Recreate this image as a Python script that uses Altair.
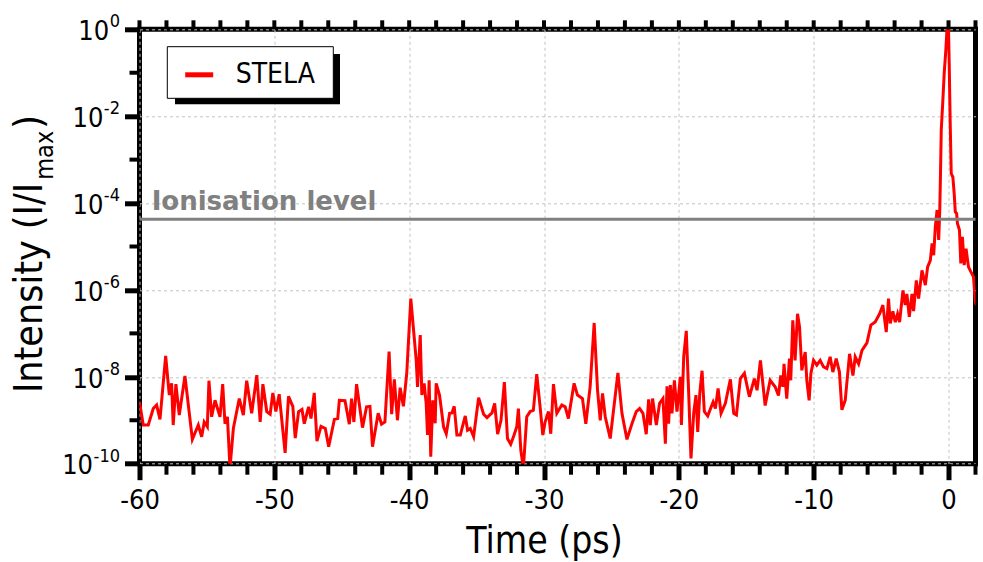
import altair as alt
import pandas as pd

# ---------------- data ----------------
series_name = "STELA"
ionisation_level = 4.24e-5
ionisation_label = "Ionisation level"
x_title = "Time (ps)"
y_title_parts = ["Intensity (I/I", "max", ")"]

time_ps = [
    -60.0, -59.72, -59.35, -58.98, -58.73, -58.48, -58.06, -57.79, -57.62, -57.5,
    -57.3, -57.05, -56.63, -56.08, -55.64, -55.39, -55.2, -54.97, -54.85, -54.65,
    -54.4, -54.03, -53.83, -53.66, -53.48, -53.29, -53.04, -52.6, -52.3, -52.05,
    -51.68, -51.3, -51.05, -50.85, -50.56, -50.31, -50.11, -49.89, -49.64, -49.2,
    -48.95, -48.63, -48.45, -48.2, -47.95, -47.78, -47.46, -47.28, -47.04, -46.84,
    -46.54, -46.22, -45.97, -45.55, -45.3, -45.18, -44.76, -44.44, -44.27, -44.1,
    -43.9, -43.46, -43.16, -42.91, -42.72, -42.3, -42.05, -41.8, -41.49, -41.3,
    -41.1, -40.87, -40.67, -40.43, -40.18, -39.88, -39.48, -39.38, -39.18, -39.06,
    -38.89, -38.74, -38.64, -38.52, -38.4, -38.25, -38.07, -38.0, -37.75, -37.45,
    -37.25, -37.0, -36.83, -36.66, -36.46, -36.21, -35.84, -35.67, -35.47, -35.22,
    -34.85, -34.48, -34.23, -33.86, -33.66, -33.44, -33.19, -32.94, -32.71, -32.47,
    -32.22, -32.02, -31.9, -31.72, -31.53, -31.28, -31.03, -30.79, -30.54, -30.29,
    -30.09, -29.92, -29.67, -29.5, -29.3, -29.05, -28.68, -28.43, -28.19, -27.77,
    -27.52, -27.15, -26.9, -26.58, -26.28, -26.03, -25.83, -25.66, -25.46, -25.09,
    -24.52, -24.22, -23.85, -23.48, -23.16, -22.91, -22.66, -22.42, -22.24, -22.12,
    -21.95, -21.67, -21.43, -21.18, -21.0, -20.88, -20.76, -20.63, -20.51, -20.33,
    -20.14, -19.89, -19.81, -19.64, -19.45, -19.27, -19.1, -18.9, -18.73, -18.6,
    -18.45, -18.28, -18.11, -17.86, -17.46, -17.29, -17.09, -16.87, -16.55, -16.18,
    -15.93, -15.73, -15.44, -15.14, -14.77, -14.4, -14.2, -13.95, -13.6, -13.23,
    -12.86, -12.61, -12.44, -12.29, -12.2, -12.0, -11.8, -11.7, -11.55, -11.38,
    -11.2, -11.05, -10.88, -10.63, -10.51, -10.34, -10.21, -10.01, -9.77, -9.52,
    -9.27, -9.02, -8.78, -8.58, -8.33, -8.09, -7.91, -7.66, -7.34, -7.09,
    -6.92, -6.67, -6.42, -6.05, -5.76, -5.44, -5.11, -4.87, -4.62, -4.45,
    -4.32, -4.13, -3.95, -3.78, -3.63, -3.38, -3.21, -3.09, -2.91, -2.71,
    -2.59, -2.39, -2.22, -1.97, -1.72, -1.55, -1.35, -1.22, -1.1, -0.98,
    -0.85, -0.73, -0.65, -0.6, -0.54, -0.42, -0.32, -0.2, -0.12, 0.0,
    0.05, 0.12, 0.2, 0.32, 0.42, 0.5, 0.6, 0.66, 0.81, 0.91,
    1.03, 1.16, 1.3, 1.48, 1.65, 1.85, 1.98, 2.05,
]

# log10 of the normalised intensity, read point by point
log_intensity = [
    -8.58, -9.11, -9.11, -8.73, -8.65, -8.98, -7.52, -8.42, -8.15, -9.11,
    -8.17, -8.88, -7.98, -9.44, -9.11, -9.38, -9.04, -9.15, -8.09, -8.92,
    -8.54, -8.92, -8.17, -9.08, -8.92, -10.1, -9.19, -8.5, -8.88, -8.09,
    -8.84, -7.96, -9.04, -8.17, -8.8, -8.86, -8.37, -8.8, -8.4, -9.75,
    -8.45, -8.68, -9.41, -8.8, -8.75, -9.08, -8.69, -8.96, -8.37, -9.48,
    -9.14, -9.19, -9.61, -8.98, -8.96, -8.54, -8.55, -9.09, -8.5, -9.04,
    -8.17, -9.17, -8.69, -8.68, -9.61, -8.84, -9.09, -9.04, -7.42, -8.86,
    -8.06, -9.0, -8.25, -8.68, -7.92, -6.2, -7.61, -8.23, -7.04, -8.42,
    -8.15, -8.61, -9.34, -8.08, -9.84, -8.54, -9.07, -8.15, -8.42, -9.15,
    -9.31, -8.84, -8.83, -8.68, -9.34, -9.34, -8.9, -9.23, -9.19, -9.38,
    -8.48, -8.86, -8.94, -8.83, -8.61, -9.32, -9.0, -8.12, -9.42, -9.55,
    -9.34, -9.15, -8.73, -9.69, -10.1, -8.92, -8.8, -8.77, -7.94, -8.69,
    -9.34, -9.04, -8.8, -9.31, -8.17, -8.84, -8.65, -8.69, -8.96, -8.15,
    -8.42, -8.5, -9.08, -8.23, -6.76, -8.31, -9.0, -8.38, -8.92, -9.42,
    -7.91, -8.84, -9.44, -9.08, -8.8, -8.73, -8.84, -9.32, -8.52, -9.11,
    -8.5, -9.11, -8.61, -8.5, -9.54, -8.22, -9.08, -8.19, -8.84, -8.08,
    -8.8, -8.0, -9.11, -7.54, -6.94, -8.38, -9.88, -8.84, -8.42, -9.27,
    -8.38, -7.86, -8.8, -8.9, -8.58, -8.73, -8.27, -8.84, -8.61, -8.06,
    -8.84, -8.88, -8.04, -7.92, -8.46, -8.04, -8.31, -7.62, -8.66, -8.08,
    -8.23, -8.43, -7.97, -8.23, -7.7, -8.5, -7.58, -8.08, -6.7, -7.62,
    -6.55, -6.85, -7.85, -7.43, -8.08, -8.54, -7.93, -7.62, -7.73, -7.62,
    -7.77, -7.81, -7.54, -7.89, -7.58, -7.89, -8.76, -8.54, -7.47, -7.97,
    -7.54, -7.7, -7.39, -7.22, -6.81, -6.74, -6.55, -6.35, -6.97, -6.2,
    -6.77, -6.49, -6.74, -6.55, -6.74, -6.01, -6.35, -6.09, -6.62, -6.09,
    -6.49, -5.78, -6.2, -5.55, -5.89, -5.47, -5.32, -4.93, -5.2, -4.55,
    -4.16, -4.85, -4.16, -3.4, -2.32, -1.63, -1.01, -0.48, -0.02, 0.0,
    -0.78, -2.09, -3.32, -3.4, -3.78, -4.2, -4.24, -4.47, -4.62, -5.39,
    -4.78, -5.43, -5.05, -5.47, -5.58, -5.7, -6.24, -6.35,
]

x_major = [-60, -50, -40, -30, -20, -10, 0]
x_all_ticks = list(range(-60, 3, 2))
x_minor = [v for v in x_all_ticks if v % 10 != 0]
y_major_exp = [-10, -8, -6, -4, -2, 0]
y_minor_exp = [-9, -7, -5, -3, -1]

# ---------------- layout / style ----------------
W, H = 836, 434.4
FONT = "DejaVu Sans Condensed"
BOLD_FONT = "DejaVu Sans"
LABEL_SIZE = 27
EXP_SIZE = 18
EXP_RIGHT = -19.5                         # right edge of exponent, px from plot's left
CHAR_W = {"-": 0.325, "d": 0.572}          # condensed glyph widths (em)

df = pd.DataFrame({
    "t": time_ps,
    "I": [10 ** v for v in log_intensity],
    "s": [series_name] * len(time_ps),
})

xscale = alt.Scale(domain=[-60, 2], nice=False, zero=False)
yscale = alt.Scale(type="log", domain=[1e-10, 1], nice=False)

x_axis = alt.Axis(
    values=x_major, labelExpr="'' + datum.value", title=x_title,
    domain=False, tickSize=16, tickWidth=5, tickColor="black",
    labelFont=FONT, labelFontSize=LABEL_SIZE, labelColor="black", labelPadding=8,
    labelFlush=False, labelOverlap=False,
    grid=True, gridColor="#c4c4c4", gridDash=[3, 3], gridWidth=1,
    titleFont=FONT, titleFontSize=37, titleFontWeight="normal", titleColor="black",
    titleX=404.5, titleY=88.5, titleBaseline="alphabetic",
)
y_axis = alt.Axis(
    values=[10.0 ** e for e in y_major_exp], labels=False, title=None,
    domain=False, tickSize=15, tickWidth=5, tickColor="black",
    grid=True, gridColor="#c4c4c4", gridDash=[3, 3], gridWidth=1,
)

# legend: symbol + label from the real legend, box and shadow drawn underneath
legend = alt.Legend(
    orient="none", legendX=43.2, legendY=29, title=None,
    symbolType="stroke", symbolSize=784, symbolStrokeWidth=5,
    labelFont=FONT, labelFontSize=28, labelColor="black", labelOffset=20,
    padding=0,
)

line = alt.Chart(df).mark_line(strokeWidth=3, clip=True).encode(
    x=alt.X("t:Q", scale=xscale, axis=x_axis),
    y=alt.Y("I:Q", scale=yscale, axis=y_axis),
    color=alt.Color("s:N", scale=alt.Scale(domain=[series_name], range=["#ff0000"]), legend=legend),
)

one = pd.DataFrame({"k": [0]})
shadow = alt.Chart(one).mark_rect(color="black").encode(
    x=alt.value(35.5), x2=alt.value(200.5), y=alt.value(24.7), y2=alt.value(75),
)
legend_box = alt.Chart(one).mark_rect(fill="white", stroke="black", strokeWidth=1).encode(
    x=alt.value(27.8), x2=alt.value(193.8), y=alt.value(17.4), y2=alt.value(69),
)

ion_df = pd.DataFrame({"t": [-59.1], "I": [ionisation_level], "label": [ionisation_label]})
ion_rule = alt.Chart(ion_df).mark_rule(color="#808080", strokeWidth=3).encode(
    y=alt.Y("I:Q", scale=yscale, axis=y_axis),
)
ion_text = alt.Chart(ion_df).mark_text(
    align="left", baseline="alphabetic", dy=-9, font=BOLD_FONT, fontWeight="bold",
    fontSize=26, color="#808080",
).encode(
    x=alt.X("t:Q", scale=xscale, axis=x_axis),
    y=alt.Y("I:Q", scale=yscale, axis=y_axis),
    text="label:N",
)

bottom_minor = alt.Chart(pd.DataFrame({"t": x_minor})).mark_rule(color="black", strokeWidth=4).encode(
    x=alt.X("t:Q", scale=xscale, axis=x_axis), y=alt.value(H), y2=alt.value(H + 11),
)
top_ticks = alt.Chart(pd.DataFrame({"t": x_all_ticks})).mark_rule(color="black", strokeWidth=4).encode(
    x=alt.X("t:Q", scale=xscale, axis=x_axis), y=alt.value(0), y2=alt.value(-9),
)
left_minor = alt.Chart(pd.DataFrame({"I": [10.0 ** e for e in y_minor_exp]})).mark_rule(
    color="black", strokeWidth=4
).encode(
    y=alt.Y("I:Q", scale=yscale, axis=y_axis), x=alt.value(0), x2=alt.value(-10),
)

# y tick labels "10" with a raised exponent
exp_strs = [str(e) for e in y_major_exp]
exp_w = [EXP_SIZE * sum(CHAR_W["-" if c == "-" else "d"] for c in s) for s in exp_strs]
ylab_df = pd.DataFrame({
    "I": [10.0 ** e for e in y_major_exp],
    "base": ["10"] * len(y_major_exp),
    "exp": exp_strs,
    "bx": [EXP_RIGHT - w - 0.5 for w in exp_w],
})
ylab_base = alt.Chart(ylab_df).mark_text(
    align="right", baseline="alphabetic", dy=10.7, font=FONT, fontSize=LABEL_SIZE, color="black",
).encode(
    y=alt.Y("I:Q", scale=yscale, axis=y_axis),
    x=alt.X("bx:Q", scale=None),
    text="base:N",
)
ylab_exp = alt.Chart(ylab_df).mark_text(
    align="right", baseline="alphabetic", dy=-2, font=FONT, fontSize=EXP_SIZE, color="black",
).encode(
    y=alt.Y("I:Q", scale=yscale, axis=y_axis),
    x=alt.value(EXP_RIGHT),
    text="exp:N",
)

# y axis title with subscript, rotated
def title_piece(txt, size, xpx, ypx):
    return alt.Chart(one).mark_text(
        angle=270, align="left", baseline="alphabetic", font=FONT, fontSize=size, color="black",
    ).encode(x=alt.value(xpx), y=alt.value(ypx), text=alt.value(txt))

yt1 = title_piece(y_title_parts[0], 39, -97.8, 363.7)
yt2 = title_piece(y_title_parts[1], 25, -86.3, 150.5)
yt3 = title_piece(y_title_parts[2], 39, -97.8, 99.5)

chart = alt.layer(
    line, ion_rule, ion_text, bottom_minor, top_ticks, left_minor,
    ylab_base, ylab_exp, yt1, yt2, yt3, shadow, legend_box,
).properties(
    width=W, height=H,
    autosize=alt.AutoSizeParams(type="none"),
    padding={"left": 139.5, "top": 29.3, "right": 7.5, "bottom": 98.3},
    background="white",
).configure_view(stroke="black", strokeWidth=5)

chart.save("out.html", embed_options={"renderer": "svg", "actions": False})
